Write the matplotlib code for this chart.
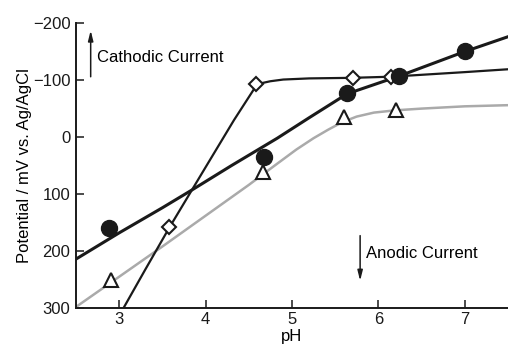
import matplotlib
matplotlib.use('Agg')
import matplotlib.pyplot as plt

plt.rcParams['font.family'] = ['Liberation Sans', 'DejaVu Sans']

# measured points
ph_circle = [2.88, 4.68, 5.64, 6.24, 7.0]
e_circle = [160, 35, -77, -107, -151]

ph_diamond = [3.58, 4.59, 5.71, 6.15]
e_diamond = [158, -93, -104, -105]

ph_triangle = [2.9, 4.67, 5.6, 6.21]
e_triangle = [250, 61, -36, -47]

# fitted curves
ph_fit_circle = [2.5, 3.0, 3.5, 3.84, 4.3, 4.83, 5.2, 5.64, 6.24, 7.0, 7.5]
e_fit_circle = [214, 168, 124, 93, 50, 2, -34, -76, -107, -150, -176]

ph_fit_diamond = [3.05, 3.3, 3.58, 4.0, 4.33, 4.59, 4.66, 4.75, 4.9, 5.2, 5.7, 6.15, 7.0, 7.5]
e_fit_diamond = [300, 233, 159, 53, -30, -91, -95, -98, -101, -103, -104, -106, -114, -119]

ph_fit_tri = [2.5, 3.0, 3.5, 4.0, 4.5, 4.8, 5.05, 5.25, 5.42, 5.58, 5.75, 5.95, 6.2, 6.5, 7.0, 7.5]
e_fit_tri = [298, 245, 192, 138, 84, 50, 22, 2, -13, -26, -36, -43, -47, -50, -54, -56]

fig = plt.figure(figsize=(5.08, 3.45), dpi=100)
ax = fig.add_axes([0.1496, 0.107, 0.85, 0.826])

ax.plot(ph_fit_tri, e_fit_tri, color='#aaaaaa', linewidth=1.8, zorder=2)
ax.plot(ph_fit_diamond, e_fit_diamond, color='#1a1a1a', linewidth=1.6, zorder=3)
ax.plot(ph_fit_circle, e_fit_circle, color='#1a1a1a', linewidth=2.2, zorder=3)

ax.plot(ph_triangle, e_triangle, linestyle='none', marker='^', markersize=10,
        markerfacecolor='white', markeredgecolor='#1a1a1a', markeredgewidth=1.5, zorder=4)
ax.plot(ph_diamond, e_diamond, linestyle='none', marker='D', markersize=7,
        markerfacecolor='white', markeredgecolor='#1a1a1a', markeredgewidth=1.5, zorder=4)
ax.plot(ph_circle, e_circle, linestyle='none', marker='o', markersize=11.5,
        markerfacecolor='#1a1a1a', markeredgecolor='#1a1a1a', zorder=5)

# current direction arrows
ax.annotate('', xy=(2.67, -192), xytext=(2.67, -101),
            arrowprops=dict(arrowstyle='-|>,head_length=0.6,head_width=0.15',
                            color='#1a1a1a', lw=1.1))
ax.text(2.745, -140, 'Cathodic Current', fontsize=12, va='center', ha='left')
ax.annotate('', xy=(5.79, 257), xytext=(5.79, 168),
            arrowprops=dict(arrowstyle='-|>,head_length=0.6,head_width=0.15',
                            color='#1a1a1a', lw=1.1))
ax.text(5.86, 205, 'Anodic Current', fontsize=12, va='center', ha='left')

ax.set_xlim(2.5, 7.5)
ax.set_ylim(300, -200)
ax.set_xticks([3, 4, 5, 6, 7])
ax.set_yticks([-200, -100, 0, 100, 200, 300])

for s in ['top', 'right']:
    ax.spines[s].set_visible(False)
for s in ['left', 'bottom']:
    ax.spines[s].set_linewidth(1.4)
    ax.spines[s].set_color('#1a1a1a')

ax.tick_params(direction='in', length=6, width=1.1, labelsize=12, pad=4, colors='#1a1a1a')
ax.tick_params(axis='x', pad=3)

ax.set_ylabel('Potential / mV vs. Ag/AgCl', fontsize=12)
ax.set_xlabel('pH', fontsize=12)
ax.yaxis.set_label_coords(-0.102, 0.5)
ax.xaxis.set_label_coords(0.5, -0.073)

fig.savefig('out.png', dpi=100)
